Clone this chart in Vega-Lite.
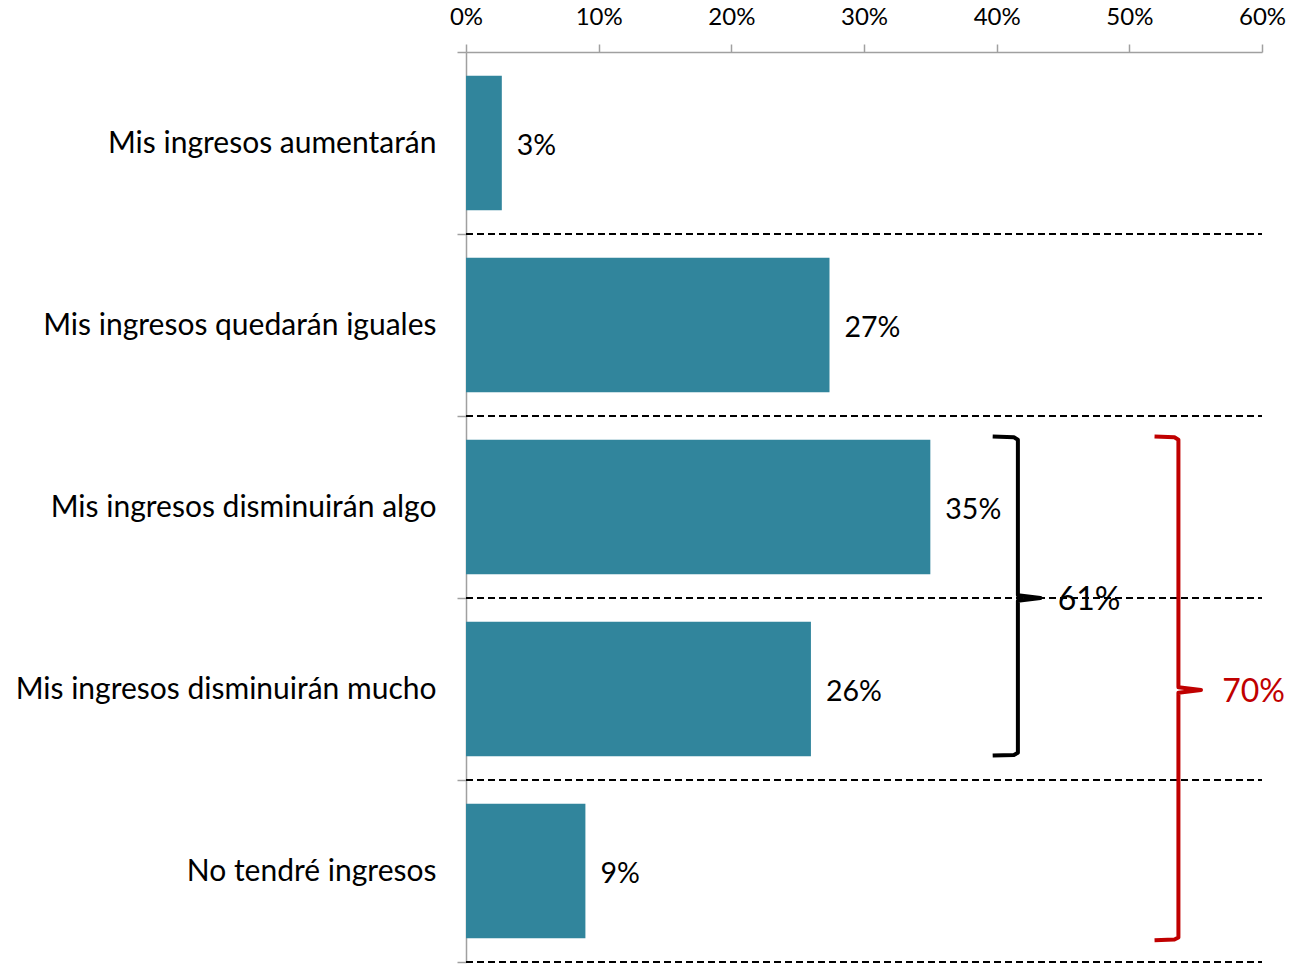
{
  "$schema": "https://vega.github.io/schema/vega-lite/v6.json",
  "width": 796,
  "height": 910,
  "autosize": {"type": "none"},
  "padding": {"left": 466, "top": 52, "right": 28, "bottom": 2},
  "config": {"view": {"stroke": null}, "font": "Lato"},
  "datasets": {
    "bars": [
      {"cat": "Mis ingresos aumentarán", "value": 2.7, "label": "3%"},
      {"cat": "Mis ingresos quedarán iguales", "value": 27.4, "label": "27%"},
      {"cat": "Mis ingresos disminuirán algo", "value": 35.0, "label": "35%"},
      {"cat": "Mis ingresos disminuirán mucho", "value": 26.0, "label": "26%"},
      {"cat": "No tendré ingresos", "value": 9.0, "label": "9%"}
    ],
    "braces": [
      {"g": "a", "o": 1, "x": 39.7, "y": 2.113},
      {"g": "a", "o": 2, "x": 41.3, "y": 2.117},
      {"g": "a", "o": 3, "x": 41.6, "y": 2.13},
      {"g": "a", "o": 4, "x": 41.6, "y": 2.985},
      {"g": "a", "o": 5, "x": 43.3, "y": 3.0},
      {"g": "a", "o": 6, "x": 41.6, "y": 3.015},
      {"g": "a", "o": 7, "x": 41.6, "y": 3.85},
      {"g": "a", "o": 8, "x": 41.3, "y": 3.862},
      {"g": "a", "o": 9, "x": 39.7, "y": 3.866},
      {"g": "b", "o": 1, "x": 51.9, "y": 2.113},
      {"g": "b", "o": 2, "x": 53.4, "y": 2.117},
      {"g": "b", "o": 3, "x": 53.7, "y": 2.13},
      {"g": "b", "o": 4, "x": 53.7, "y": 3.49},
      {"g": "b", "o": 5, "x": 55.4, "y": 3.505},
      {"g": "b", "o": 6, "x": 53.7, "y": 3.52},
      {"g": "b", "o": 7, "x": 53.7, "y": 4.865},
      {"g": "b", "o": 8, "x": 53.4, "y": 4.876},
      {"g": "b", "o": 9, "x": 51.9, "y": 4.88}
    ],
    "braceLabels": [
      {"g": "a", "x": 44.6, "y": 3.0, "label": "61%"},
      {"g": "b", "x": 57.0, "y": 3.505, "label": "70%"}
    ]
  },
  "layer": [
    {
      "data": {"name": "bars"},
      "encoding": {
        "y": {
          "field": "cat",
          "type": "nominal",
          "sort": null,
          "scale": {"paddingInner": 0, "paddingOuter": 0},
          "axis": {
            "title": null,
            "tickBand": "extent",
            "grid": false,
            "domainColor": "#A0A0A0",
            "domainWidth": 1.5,
            "tickColor": "#A0A0A0",
            "tickWidth": 1.5,
            "tickSize": 9,
            "labelFontSize": 30,
            "labelColor": "#000000",
            "labelPadding": 21,
            "labelLimit": 600
          }
        },
        "x": {
          "field": "value",
          "type": "quantitative",
          "scale": {"domain": [0, 60]},
          "axis": {
            "orient": "top",
            "title": null,
            "values": [0, 10, 20, 30, 40, 50, 60],
            "labelExpr": "datum.value + '%'",
            "grid": false,
            "domainColor": "#A0A0A0",
            "domainWidth": 1.5,
            "tickColor": "#A0A0A0",
            "tickWidth": 1.5,
            "tickSize": 8,
            "labelFontSize": 24,
            "labelColor": "#000000",
            "labelPadding": 15,
            "labelFlush": false
          }
        }
      },
      "layer": [
        {
          "mark": {"type": "rule", "color": "#000000", "strokeWidth": 2, "strokeDash": [7, 4]},
          "encoding": {
            "y": {"field": "cat", "type": "nominal", "sort": null, "bandPosition": 1},
            "x": {"value": 0},
            "x2": {"value": 796}
          }
        },
        {
          "mark": {"type": "bar", "color": "#31859C", "height": {"band": 0.74}}
        },
        {
          "mark": {"type": "text", "align": "left", "baseline": "middle", "dx": 15, "dy": 3, "fontSize": 28.5, "color": "#000000"},
          "encoding": {
            "text": {"field": "label", "type": "nominal"}
          }
        }
      ]
    },
    {
      "layer": [
        {
          "data": {"name": "braces"},
          "mark": {"type": "line", "strokeWidth": 4, "strokeJoin": "round", "interpolate": "linear"},
          "encoding": {
            "x": {"field": "x", "type": "quantitative", "scale": {"domain": [0, 60]}},
            "y": {"field": "y", "type": "quantitative", "scale": {"domain": [0, 5], "reverse": true, "nice": false, "zero": false}, "axis": null},
            "order": {"field": "o", "type": "quantitative"},
            "color": {"field": "g", "type": "nominal", "scale": {"domain": ["a", "b"], "range": ["#000000", "#C00000"]}, "legend": null}
          }
        },
        {
          "data": {"name": "braceLabels"},
          "mark": {"type": "text", "align": "left", "baseline": "middle", "dy": 2, "fontSize": 32},
          "encoding": {
            "x": {"field": "x", "type": "quantitative"},
            "y": {"field": "y", "type": "quantitative", "axis": null},
            "text": {"field": "label", "type": "nominal"},
            "color": {"field": "g", "type": "nominal", "legend": null}
          }
        }
      ]
    }
  ],
  "resolve": {"scale": {"y": "independent"}}
}
